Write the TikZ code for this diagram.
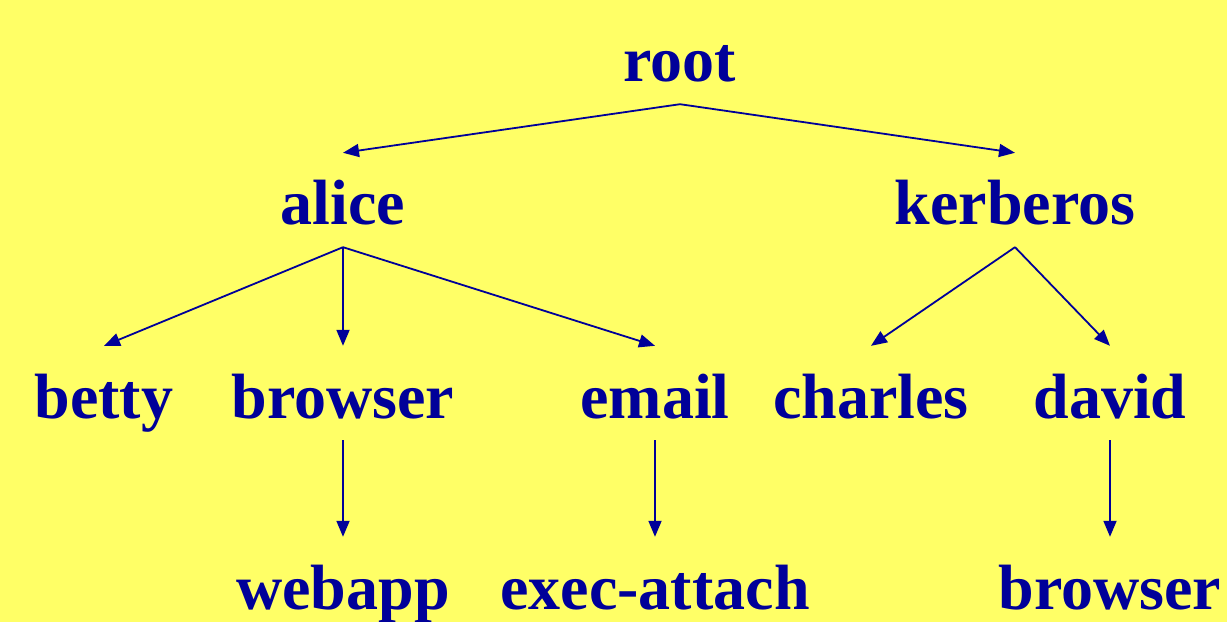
\documentclass[tikz,border=0pt]{standalone}
\usepackage{fontspec}
\setmainfont{Liberation Serif}
\usetikzlibrary{arrows.meta}
\definecolor{bgyellow}{HTML}{FFFF66}
\definecolor{ink}{HTML}{000099}
\tikzset{
  lbl/.style={text=ink, inner sep=0pt, text height=72bp, text depth=22bp,
    font=\fontsize{64bp}{70bp}\selectfont\bfseries},
  conn/.style={draw=ink, line width=1.8bp, -{Triangle[length=16bp,width=13bp]}}
}
\begin{document}
\begin{tikzpicture}[x=1bp,y=-1bp]
\fill[bgyellow] (0,0) rectangle (1227,622);
\useasboundingbox (0,0) rectangle (1227,622);
\node[lbl, anchor=base] (root) at (680,82) {root};
\node[lbl, anchor=base] (alice) at (343,225) {alice};
\node[lbl, anchor=base] (kerberos) at (1015,225) {kerberos};
\node[lbl, anchor=base] (betty) at (104,418) {betty};
\node[lbl, anchor=base] (browser) at (343,418) {browser};
\node[lbl, anchor=base] (email) at (655,418) {email};
\node[lbl, anchor=base] (charles) at (871,418) {charles};
\node[lbl, anchor=base] (david) at (1110,418) {david};
\node[lbl, anchor=base] (webapp) at (343,609) {webapp};
\node[lbl, anchor=base] (exec) at (655,609) {exec-attach};
\node[lbl, anchor=base] (browsertwo) at (1110,609) {browser};
\draw[conn] (root.south) -- (alice.north);
\draw[conn] (root.south) -- (kerberos.north);
\draw[conn] (alice.south) -- (betty.north);
\draw[conn] (alice.south) -- (browser.north);
\draw[conn] (alice.south) -- (email.north);
\draw[conn] (kerberos.south) -- (charles.north);
\draw[conn] (kerberos.south) -- (david.north);
\draw[conn] (browser.south) -- (webapp.north);
\draw[conn] (email.south) -- (exec.north);
\draw[conn] (david.south) -- (browsertwo.north);
\end{tikzpicture}
\end{document}
